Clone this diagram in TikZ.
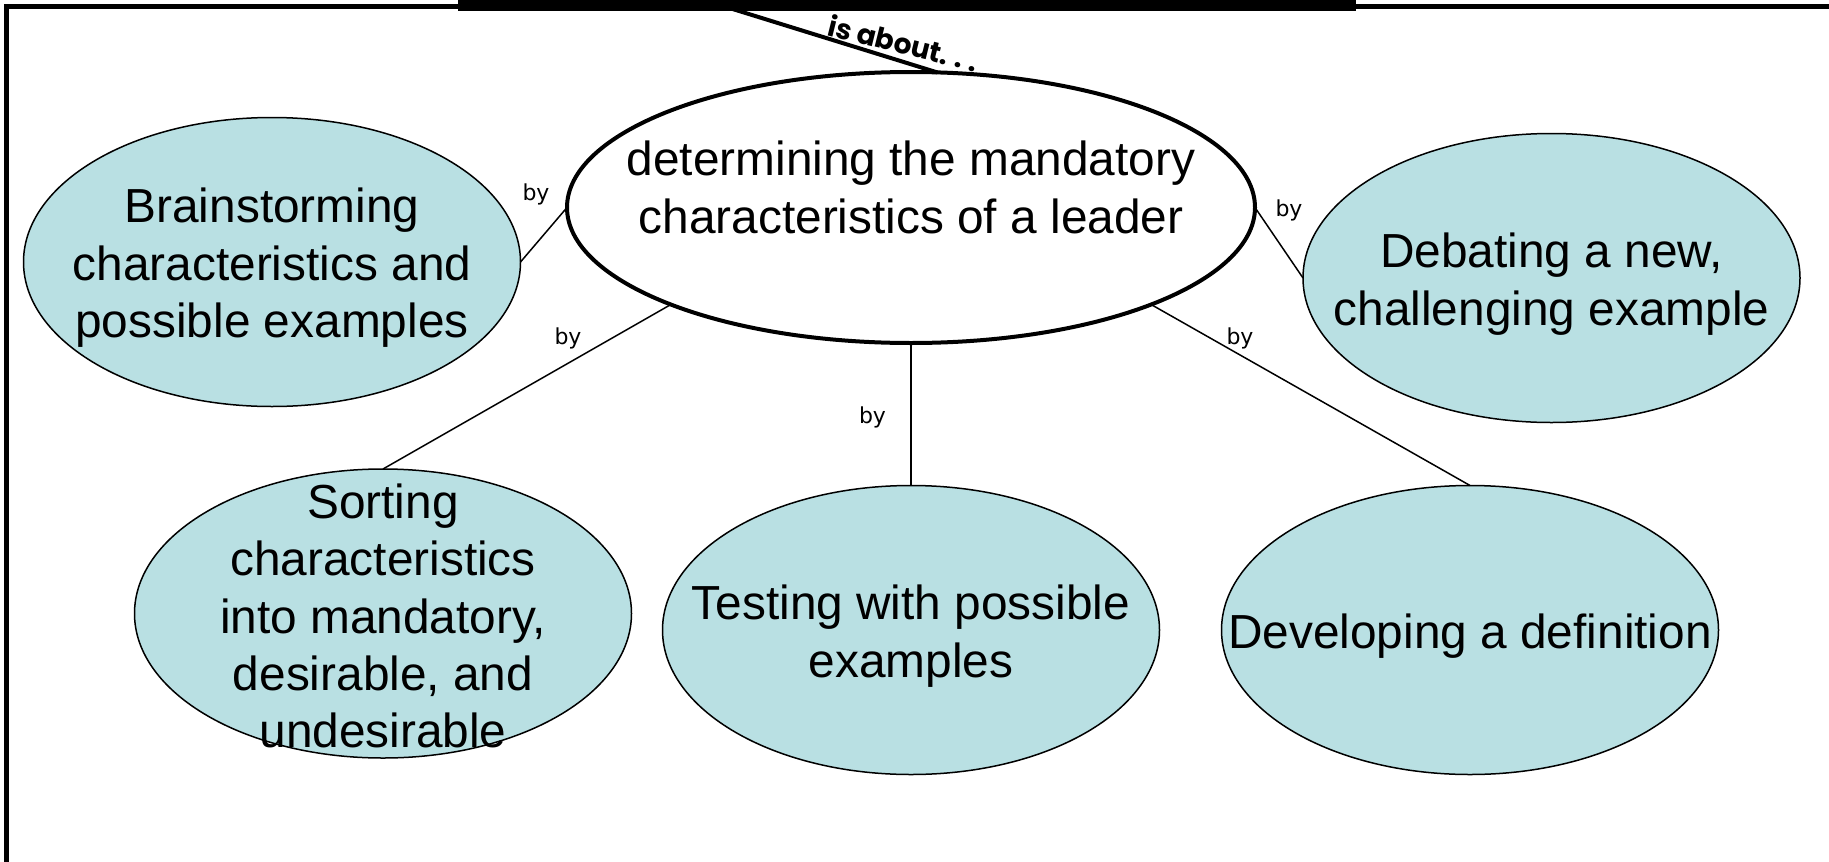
\documentclass[tikz,border=0pt]{standalone}
\usepackage{fontspec}
\setmainfont{Liberation Sans}
\newfontfamily\byfont{DejaVu Sans}
\newfontfamily\notefont{Poppins}
\usetikzlibrary{shapes.geometric,calc}
\definecolor{topicfill}{RGB}{185,224,227}

\begin{document}
\begin{tikzpicture}[x=1pt,y=-1pt,
  topic/.style={ellipse, draw=black, line width=1.5pt, fill=topicfill,
    inner sep=0pt, outer sep=0pt, minimum width=497pt, minimum height=289pt},
  focus/.style={ellipse, draw=black, line width=4pt, fill=white,
    inner sep=0pt, outer sep=0pt, minimum width=688pt, minimum height=271pt},
  rootbox/.style={draw=black, line width=11pt, fill=white, inner sep=0pt,
    outer sep=0pt, minimum width=887pt, minimum height=60pt, anchor=south},
  caption/.style={align=center, inner sep=0pt, yshift=-6pt,
    font=\fontsize{47.8}{57.4}\selectfont},
  link/.style={draw=black, line width=1.5pt},
  mainlink/.style={draw=black, line width=4pt},
  linklabel/.style={inner sep=0pt, font=\byfont\fontsize{22}{26}\selectfont},
  notelabel/.style={inner sep=0pt, font=\notefont\bfseries\fontsize{28}{32}\selectfont},
]
\useasboundingbox (0,0) rectangle (1829,862);
\clip (0,0) rectangle (1829,862);
\fill[white] (0,0) rectangle (1829,862);

% outer frame (runs off the right and bottom edges)
\draw[line width=4.7pt] (6.3,900) -- (6.3,6.3) -- (1900,6.3);

% root concept box, cut off at the top
\node[rootbox] (root) at (907,5.5) {};
\coordinate (rootfoot) at (732.6,9);

% central concept
\node[focus] (focus) at (911,207.5) {};
\node[caption, yshift=6pt] (focustext) at (911,187.5) {determining the mandatory\\characteristics of a leader};

% activities
\node[topic] (brain) at (272,262) {};
\node[caption] (braintext) at (brain) {Brainstorming\\characteristics and\\possible examples};

\node[topic] (debate) at (1551.5,278) {};
\node[caption] (debatetext) at (debate) {Debating a new,\\challenging example};

\node[topic] (sort) at (383,613.5) {};
\node[caption, yshift=3.5pt] (sorttext) at (sort) {Sorting\\characteristics\\into mandatory,\\desirable, and\\undesirable};

\node[topic] (test) at (911,630) {};
\node[caption] (testtext) at (test) {Testing with possible\\examples};

\node[topic] (devel) at (1470,630) {};
\node[caption] (develtext) at (devel) {Developing a definition};

% connectors
\draw[mainlink] (rootfoot) -- (focus.79);
\draw[link] (focus.west) -- (brain.east);
\draw[link] (focus.202) -- (sort.north);
\draw[link] (focus.south) -- (test.north);
\draw[link] (focus.338) -- (devel.north);
\draw[link] (focus.east) -- (debate.west);

% connector labels
\node[notelabel, rotate=-14, anchor=base west] (about) at (826,35)
  {is about.\kern7pt.\kern7pt.};
\node[linklabel] (by1) at (536,194) {by};
\node[linklabel] (by2) at (568,338) {by};
\node[linklabel] (by3) at (872.5,417.6) {by};
\node[linklabel] (by4) at (1240,338) {by};
\node[linklabel] (by5) at (1289,210) {by};
\end{tikzpicture}
\end{document}
